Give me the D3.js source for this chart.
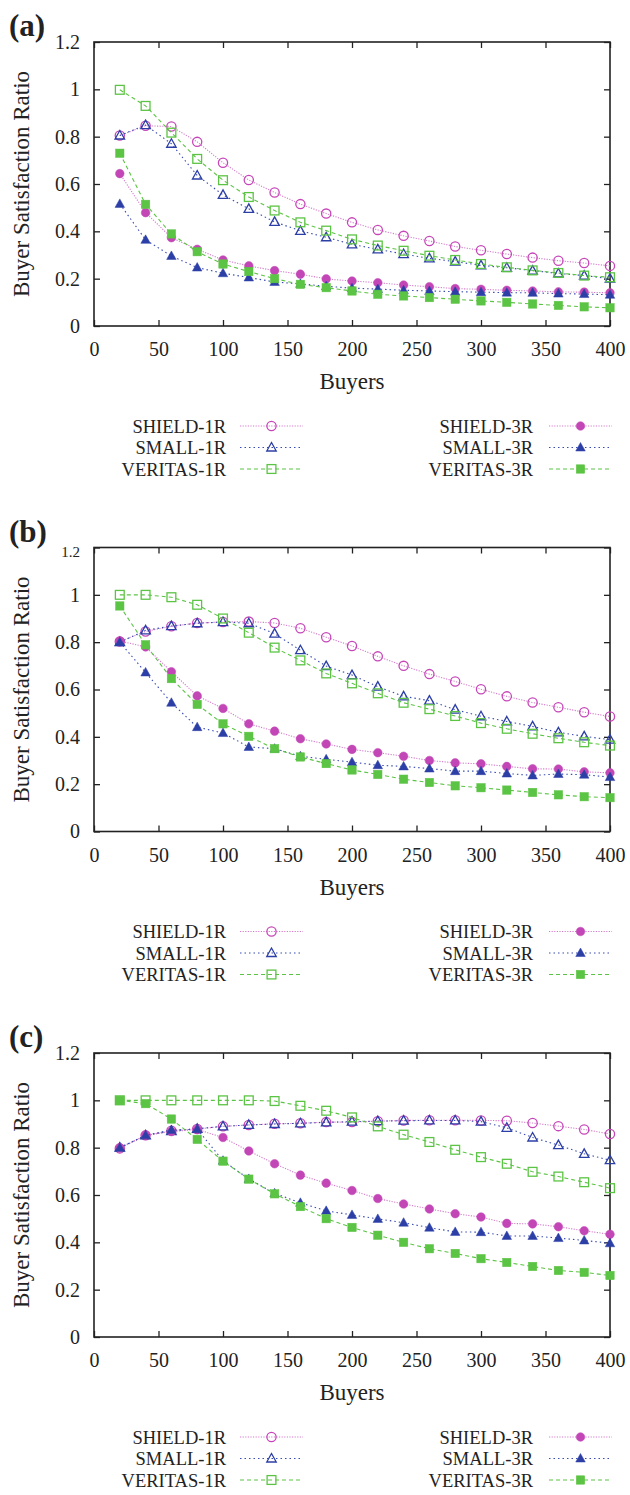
<!DOCTYPE html>
<html>
<head>
<meta charset="utf-8">
<script src="https://cdn.jsdelivr.net/npm/d3@7/dist/d3.min.js"></script>
<style>
    body { margin: 0; background: #fff; }
    svg { display: block; font-family: "Liberation Serif", "DejaVu Serif", serif; }
</style>
</head>
<body>
<div id="chart"></div>
<script>
// x positions (number of buyers) and axis ticks
var buyers = [20, 40, 60, 80, 100, 120, 140, 160, 180, 200, 220, 240, 260, 280, 300, 320, 340, 360, 380, 400];
var xTicks = [0, 50, 100, 150, 200, 250, 300, 350, 400];
var yTicks = [0, 0.2, 0.4, 0.6, 0.8, 1, 1.2];
var seriesNames = ["SHIELD-1R", "SMALL-1R", "VERITAS-1R", "SHIELD-3R", "SMALL-3R", "VERITAS-3R"];
var panelLabels = ["(a)", "(b)", "(c)"];

/* panel (a) */
var shield1A = [0.805, 0.846, 0.843, 0.778, 0.69, 0.617, 0.564, 0.515, 0.475, 0.438, 0.406, 0.381, 0.359, 0.336, 0.32, 0.304, 0.289, 0.276, 0.266, 0.254];
var small1A = [0.805, 0.849, 0.77, 0.636, 0.554, 0.495, 0.44, 0.402, 0.375, 0.345, 0.324, 0.304, 0.286, 0.272, 0.256, 0.246, 0.234, 0.222, 0.213, 0.2];
var veritas1A = [0.998, 0.93, 0.817, 0.706, 0.616, 0.545, 0.488, 0.438, 0.403, 0.366, 0.34, 0.318, 0.297, 0.279, 0.262, 0.248, 0.235, 0.224, 0.213, 0.206];
var shield3A = [0.644, 0.479, 0.373, 0.324, 0.279, 0.254, 0.234, 0.219, 0.199, 0.19, 0.183, 0.173, 0.166, 0.158, 0.155, 0.151, 0.148, 0.144, 0.143, 0.14];
var small3A = [0.516, 0.364, 0.296, 0.247, 0.223, 0.205, 0.186, 0.178, 0.168, 0.16, 0.156, 0.151, 0.148, 0.145, 0.143, 0.141, 0.14, 0.137, 0.135, 0.132];
var veritas3A = [0.73, 0.514, 0.389, 0.314, 0.262, 0.23, 0.2, 0.176, 0.162, 0.148, 0.134, 0.127, 0.12, 0.113, 0.106, 0.1, 0.093, 0.087, 0.081, 0.077];

/* panel (b) */
var shield1B = [0.803, 0.845, 0.867, 0.881, 0.885, 0.887, 0.881, 0.859, 0.821, 0.784, 0.74, 0.7, 0.665, 0.634, 0.601, 0.571, 0.545, 0.525, 0.504, 0.486];
var small1B = [0.8, 0.85, 0.868, 0.88, 0.885, 0.88, 0.836, 0.766, 0.699, 0.661, 0.612, 0.571, 0.553, 0.515, 0.487, 0.465, 0.444, 0.419, 0.402, 0.388];
var veritas1B = [1.0, 1.0, 0.99, 0.958, 0.9, 0.84, 0.777, 0.723, 0.668, 0.626, 0.584, 0.544, 0.517, 0.488, 0.458, 0.434, 0.413, 0.394, 0.377, 0.363];
var shield3B = [0.805, 0.78, 0.675, 0.573, 0.52, 0.455, 0.424, 0.392, 0.37, 0.347, 0.333, 0.318, 0.3, 0.29, 0.286, 0.275, 0.265, 0.264, 0.252, 0.248];
var small3B = [0.8, 0.672, 0.544, 0.441, 0.416, 0.357, 0.35, 0.318, 0.305, 0.293, 0.28, 0.275, 0.266, 0.255, 0.255, 0.245, 0.237, 0.243, 0.24, 0.23];
var veritas3B = [0.953, 0.789, 0.646, 0.537, 0.455, 0.402, 0.35, 0.315, 0.287, 0.26, 0.241, 0.221, 0.207, 0.193, 0.185, 0.175, 0.165, 0.155, 0.147, 0.143];

/* panel (c) */
var shield1C = [0.797, 0.852, 0.872, 0.879, 0.89, 0.896, 0.901, 0.903, 0.908, 0.908, 0.912, 0.915, 0.916, 0.916, 0.915, 0.914, 0.904, 0.891, 0.877, 0.858];
var small1C = [0.8, 0.852, 0.87, 0.88, 0.89, 0.896, 0.9, 0.903, 0.907, 0.91, 0.912, 0.914, 0.915, 0.915, 0.91, 0.884, 0.843, 0.811, 0.774, 0.747];
var veritas1C = [1.0, 1.0, 1.0, 1.0, 1.0, 1.0, 0.997, 0.977, 0.956, 0.928, 0.89, 0.855, 0.824, 0.791, 0.76, 0.732, 0.698, 0.678, 0.654, 0.629];
var shield3C = [0.8, 0.852, 0.868, 0.877, 0.843, 0.786, 0.732, 0.684, 0.65, 0.619, 0.585, 0.562, 0.541, 0.521, 0.507, 0.48, 0.478, 0.466, 0.449, 0.434];
var small3C = [0.8, 0.852, 0.875, 0.878, 0.745, 0.668, 0.607, 0.567, 0.533, 0.516, 0.499, 0.483, 0.462, 0.444, 0.443, 0.427, 0.427, 0.418, 0.408, 0.396];
var veritas3C = [1.0, 0.986, 0.921, 0.835, 0.743, 0.667, 0.605, 0.551, 0.5, 0.463, 0.43, 0.4, 0.373, 0.353, 0.331, 0.315, 0.298, 0.281, 0.273, 0.26];

var panels = [
    [shield1A, small1A, veritas1A, shield3A, small3A, veritas3A],
    [shield1B, small1B, veritas1B, shield3B, small3B, veritas3B],
    [shield1C, small1C, veritas1C, shield3C, small3C, veritas3C]
];

// look of each series, same order as seriesNames
var styles = [
    {line: "#d47ccc", mark: "#c646b8", dash: "1.2,1.4", shape: "circle", filled: false},
    {line: "#3a4cb0", mark: "#2c3fa6", dash: "1.5,3", shape: "triangle", filled: false},
    {line: "#5cc444", mark: "#5cc444", dash: "4,3", shape: "square", filled: false},
    {line: "#d47ccc", mark: "#c246b6", dash: "1.2,1.4", shape: "circle", filled: true},
    {line: "#3a4cb0", mark: "#2c3fa6", dash: "1.5,3", shape: "triangle", filled: true},
    {line: "#5cc444", mark: "#5cc444", dash: "4,3", shape: "square", filled: true}
];

var W = 630, H = 1495;
var left = 94, plotW = 516, plotH = 284, top0 = 42, panelStep = 505.5;

var svg = d3.select("#chart").append("svg")
    .attr("width", W)
    .attr("height", H);

var x = d3.scaleLinear().domain([0, 400]).range([left, left + plotW]);
var y = d3.scaleLinear().domain([0, 1.2]).range([plotH, 0]);

var fmt = function(d) { return String(+d.toFixed(1)); };

function drawMarker(g, style, cx, cy) {
    var fill = style.filled ? style.mark : "none";
    var m;
    if (style.shape == "circle") {
        m = g.append("circle").attr("cx", cx).attr("cy", cy).attr("r", style.filled ? 4.3 : 4.6);
    } else if (style.shape == "square") {
        var s = style.filled ? 8.4 : 8.8;
        m = g.append("rect").attr("x", cx - s / 2).attr("y", cy - s / 2).attr("width", s).attr("height", s);
    } else {
        var r = 5;
        m = g.append("path").attr("d", "M" + cx + "," + (cy - r) +
            "L" + (cx + r * 0.95) + "," + (cy + r * 0.7) +
            "L" + (cx - r * 0.95) + "," + (cy + r * 0.7) + "Z");
    }
    m.attr("fill", fill)
        .attr("stroke", style.mark)
        .attr("stroke-width", style.filled ? 0.5 : 1.3);
}

panels.forEach(function(panel, pi) {
    var g = svg.append("g").attr("transform", "translate(0," + (top0 + pi * panelStep) + ")");

    // axes, ticks point inward and are mirrored on top/right
    var yAxis = g.append("g")
        .attr("transform", "translate(" + left + ",0)")
        .call(d3.axisLeft(y).tickValues(yTicks).tickFormat(fmt).tickSizeInner(-6).tickSizeOuter(0).tickPadding(14));
    g.append("g")
        .attr("transform", "translate(" + (left + plotW) + ",0)")
        .call(d3.axisRight(y).tickValues(yTicks).tickFormat("").tickSizeInner(-6).tickSizeOuter(0));
    g.append("g")
        .attr("transform", "translate(0," + plotH + ")")
        .call(d3.axisBottom(x).tickValues(xTicks).tickFormat(fmt).tickSizeInner(-6).tickSizeOuter(0).tickPadding(16));
    g.append("g")
        .call(d3.axisTop(x).tickValues(xTicks).tickFormat("").tickSizeInner(-6).tickSizeOuter(0));

    g.selectAll(".domain").remove();
    g.selectAll(".tick line").attr("stroke", "#222").attr("stroke-width", 1.3);
    g.selectAll(".tick text")
        .attr("font-family", "Liberation Serif")
        .attr("font-size", 20)
        .attr("fill", "#222");
    if (pi == 1) {
        // the 1.2 label of the middle panel is printed smaller in the original
        yAxis.selectAll(".tick text").filter(function(d) { return d == 1.2; })
            .attr("font-size", 15).attr("dy", "0.6em");
    }

    g.append("rect")
        .attr("x", left).attr("y", 0)
        .attr("width", plotW).attr("height", plotH)
        .attr("fill", "none").attr("stroke", "#222").attr("stroke-width", 1.6);

    // series lines then markers
    panel.forEach(function(values, si) {
        var st = styles[si];
        var line = d3.line()
            .x(function(d, i) { return x(buyers[i]); })
            .y(function(d) { return y(d); });
        g.append("path")
            .datum(values)
            .attr("d", line)
            .attr("fill", "none")
            .attr("stroke", st.line)
            .attr("stroke-width", 1.1)
            .attr("stroke-dasharray", st.dash);
        var mg = g.append("g");
        values.forEach(function(v, i) {
            drawMarker(mg, st, x(buyers[i]), y(v));
        });
    });

    // labels
    g.append("text")
        .attr("x", 9).attr("y", -6)
        .attr("font-size", 31).attr("font-weight", "bold")
        .attr("fill", "#222")
        .text(panelLabels[pi]);

    g.append("text")
        .attr("transform", "translate(29," + (plotH / 2) + ") rotate(-90)")
        .attr("text-anchor", "middle")
        .attr("font-size", 23)
        .attr("fill", "#222")
        .text("Buyer Satisfaction Ratio");

    g.append("text")
        .attr("x", left + plotW / 2).attr("y", plotH + 63)
        .attr("text-anchor", "middle")
        .attr("font-size", 23)
        .attr("fill", "#222")
        .text("Buyers");

    // legend: two columns of three
    seriesNames.forEach(function(name, si) {
        var col = si < 3 ? 0 : 1;
        var row = si % 3;
        var ty = plotH + 100 + row * 21.5;
        var textX = col == 0 ? 226 : 533;
        var lx0 = col == 0 ? 240 : 549;
        var lx1 = lx0 + 63;
        var st = styles[si];
        g.append("text")
            .attr("x", textX).attr("y", ty + 6.5)
            .attr("text-anchor", "end")
            .attr("font-size", 18.5)
            .attr("fill", "#222")
            .text(name);
        g.append("line")
            .attr("x1", lx0).attr("x2", lx1)
            .attr("y1", ty).attr("y2", ty)
            .attr("stroke", st.line)
            .attr("stroke-width", 1.1)
            .attr("stroke-dasharray", st.dash);
        drawMarker(g, st, (lx0 + lx1) / 2, ty);
    });
});
</script>
</body>
</html>
